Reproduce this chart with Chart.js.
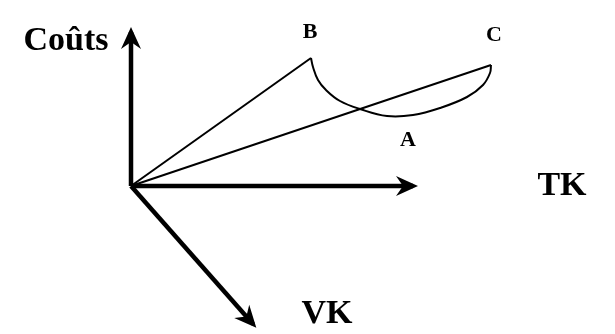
<!DOCTYPE html>
<html>
<head>
<meta charset="utf-8">
<script src="https://cdn.jsdelivr.net/npm/chart.js@4.4.0/dist/chart.umd.min.js"></script>
<style>
  html, body { margin: 0; padding: 0; background: #fff; }
  #wrap { width: 615px; height: 334px; }
</style>
</head>
<body>
<div id="wrap"><canvas id="schema" width="615" height="334"></canvas></div>
<script>
// ====== DONNÉES ======
// origine commune des trois axes
const origine = { x: 0, y: 0 };
// extrémités des axes (Coûts vers le haut, TK à droite, VK en bas)
const axeCouts = { x: 0, y: 154 };
const axeTK = { x: 282, y: 0 };
const axeVK = { x: 122, y: -138 };
// points B et C
const pointB = { x: 180, y: 128 };
const pointC = { x: 360, y: 121 };
// courbe B -> A -> C
const courbeX = [180, 182, 187, 195, 209, 229, 256, 282, 309, 336, 352, 359, 360];
const courbeY = [128, 119, 106, 96, 85, 77, 70, 71, 78, 89, 101, 113, 121];
// étiquettes
const etiquettes = ['Coûts', 'TK', 'VK', 'B', 'C', 'A'];

const courbe = courbeX.map((x, i) => ({ x: x, y: courbeY[i] }));

// ====== FLÈCHES ET TEXTES ======
const flechesPlugin = {
    id: 'fleches',
    afterDatasetsDraw(chart) {
        const ctx = chart.ctx;
        const sx = chart.scales.x, sy = chart.scales.y;
        chart.data.datasets.forEach(ds => {
            if (!ds.fleche) return;
            const n = ds.data.length;
            const p0 = ds.data[n - 2], p1 = ds.data[n - 1];
            const x0 = sx.getPixelForValue(p0.x), y0 = sy.getPixelForValue(p0.y);
            const x1 = sx.getPixelForValue(p1.x), y1 = sy.getPixelForValue(p1.y);
            const a = Math.atan2(y1 - y0, x1 - x0);
            ctx.save();
            ctx.translate(x1, y1);
            ctx.rotate(a);
            ctx.beginPath();
            ctx.moveTo(5, 0);
            ctx.lineTo(-17, -10);
            ctx.lineTo(-10, 0);
            ctx.lineTo(-17, 10);
            ctx.closePath();
            ctx.fillStyle = '#000';
            ctx.fill();
            ctx.restore();
        });

        // textes
        const textes = [
            { t: etiquettes[0], x: -65, y: 145, f: 'bold 34px "Liberation Serif"' },
            { t: etiquettes[1], x: 431, y: 0, f: 'bold 34px "Liberation Serif"' },
            { t: etiquettes[2], x: 196, y: -128, f: 'bold 34px "Liberation Serif"' },
            { t: etiquettes[3], x: 179, y: 154, f: 'bold 22px "Liberation Serif"' },
            { t: etiquettes[4], x: 363, y: 151, f: 'bold 22px "Liberation Serif"' },
            { t: etiquettes[5], x: 277, y: 46, f: 'bold 22px "Liberation Serif"' }
        ];
        ctx.save();
        ctx.fillStyle = '#000';
        ctx.textAlign = 'center';
        ctx.textBaseline = 'middle';
        textes.forEach(o => {
            ctx.font = o.f;
            ctx.fillText(o.t, sx.getPixelForValue(o.x), sy.getPixelForValue(o.y));
        });
        ctx.restore();
    }
};

const ligne = (data, epaisseur, extra) => Object.assign({
    data: data,
    showLine: true,
    borderColor: '#000',
    borderWidth: epaisseur,
    pointRadius: 0,
    fill: false,
    clip: false
}, extra || {});

new Chart(document.getElementById('schema'), {
    type: 'scatter',
    data: {
        datasets: [
            ligne([origine, axeCouts], 4.5, { fleche: true }),
            ligne([origine, axeTK], 4.5, { fleche: true }),
            ligne([origine, axeVK], 4.5, { fleche: true }),
            ligne([origine, pointB], 2),
            ligne([origine, pointC], 2),
            ligne(courbe, 2, { tension: 0.4 })
        ]
    },
    options: {
        responsive: false,
        animation: false,
        layout: { padding: 0 },
        plugins: {
            legend: { display: false },
            tooltip: { enabled: false }
        },
        scales: {
            x: { type: 'linear', min: -131, max: 484, display: false },
            y: { type: 'linear', min: -148, max: 186, display: false }
        }
    },
    plugins: [flechesPlugin]
});
</script>
</body>
</html>
